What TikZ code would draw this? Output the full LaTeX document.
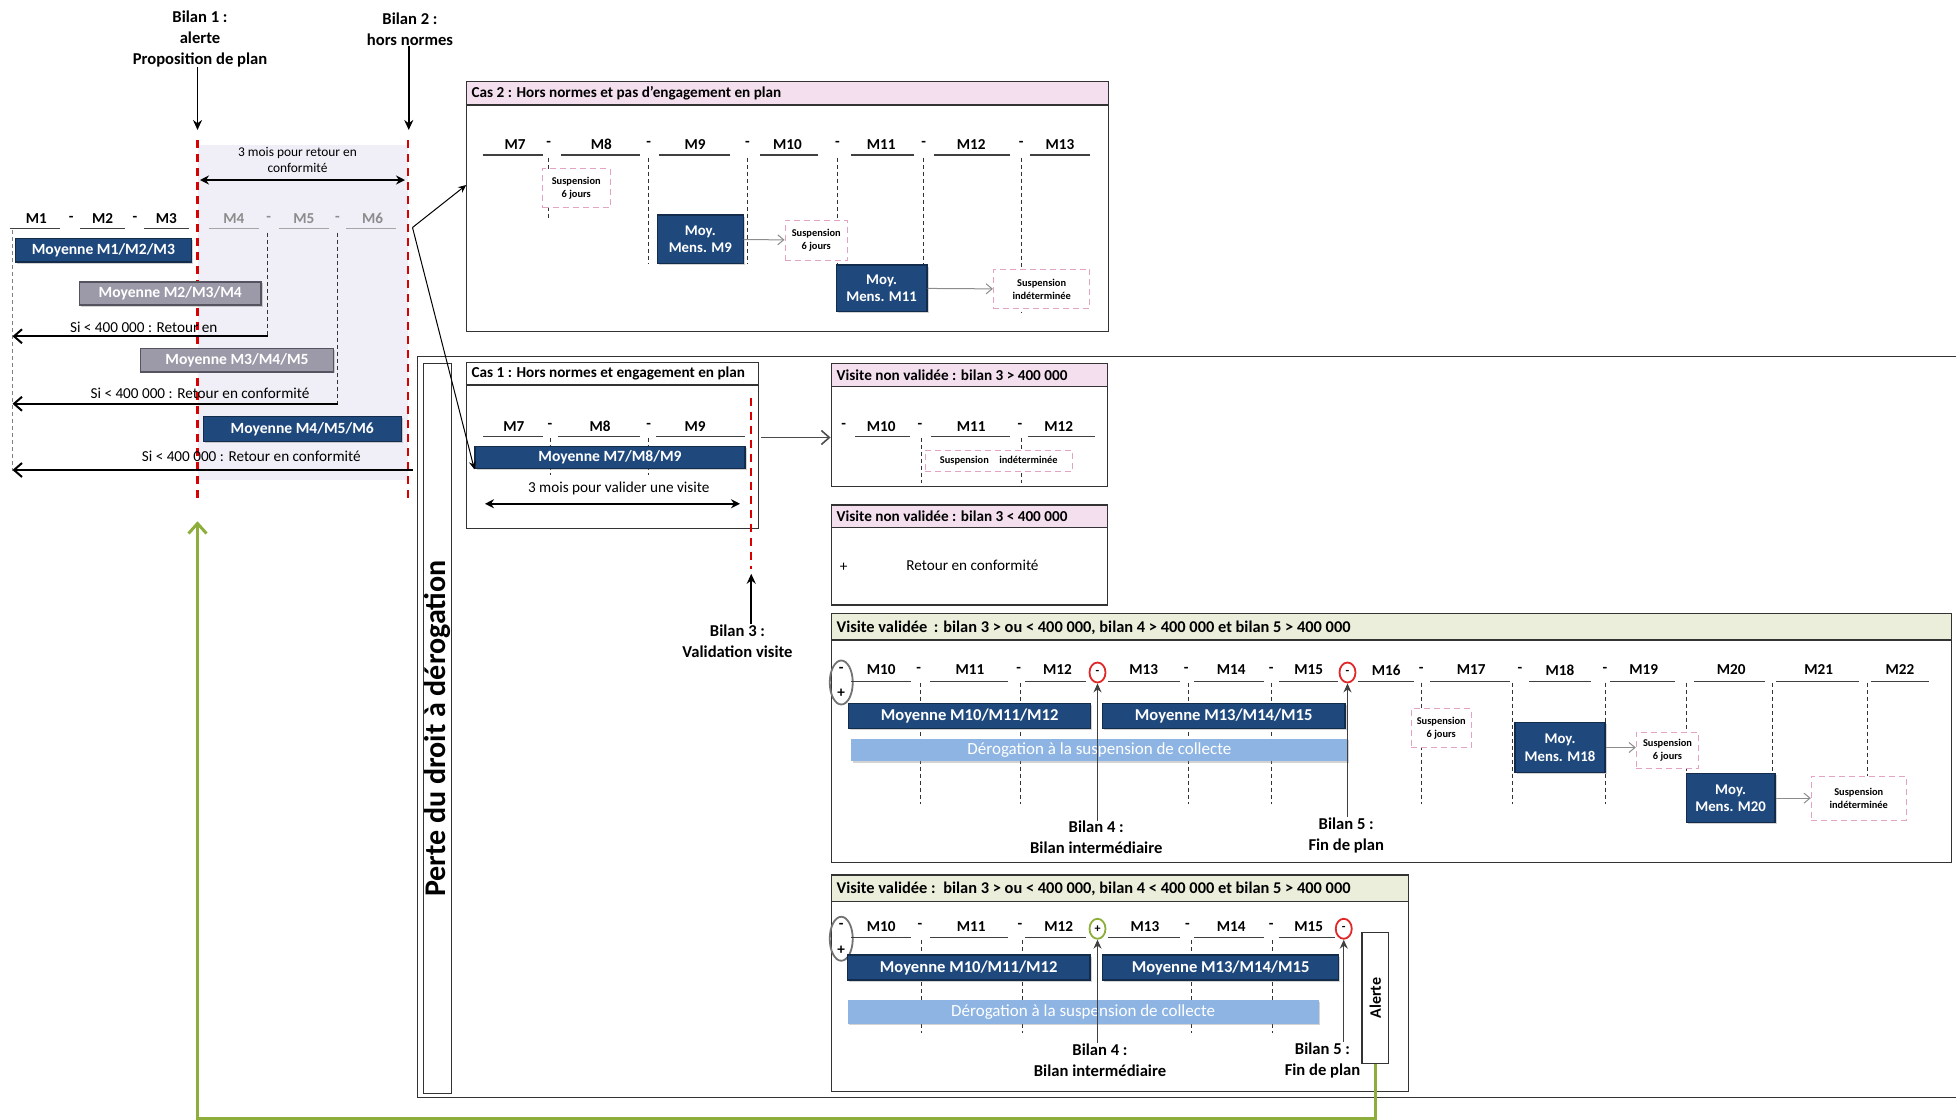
\documentclass[tikz,border=0pt]{standalone}
\usepackage{fontspec}
\setmainfont{Carlito}
\usetikzlibrary{positioning,fit,arrows.meta,shapes.geometric,shadows}

\definecolor{dkblue}{HTML}{1F497D}
\definecolor{boxgray}{HTML}{9C99A8}
\definecolor{graydark}{HTML}{55535F}
\definecolor{barblue}{HTML}{8DB4E2}
\definecolor{hdrpink}{HTML}{F3DFEE}
\definecolor{hdrbeige}{HTML}{ECEEDC}
\definecolor{lavend}{HTML}{F0EEF6}
\definecolor{susppink}{HTML}{E2A4C2}
\definecolor{olive}{HTML}{8DAE3A}
\definecolor{alertred}{HTML}{E02828}

\tikzset{
  mlab/.style={inner sep=0pt, font=\fontsize{7.6}{8}\selectfont\bfseries},
  mgray/.style={mlab, text=black!45},
  uline/.style={line width=0.6pt, black!75},
  vdash/.style={line width=0.5pt, black!80, dash pattern=on 2pt off 1.5pt},
  reddash/.style={line width=1.1pt, red!85!black, dash pattern=on 4pt off 3pt},
  shade/.style={drop shadow={opacity=0.35, shadow xshift=0.8pt, shadow yshift=-0.8pt}},
  blubox/.style={shade, fill=dkblue, draw=dkblue!60!black, line width=0.6pt, text=white, inner sep=0pt, font=\fontsize{7.8}{8}\selectfont\bfseries},
  bigblu/.style={blubox, font=\fontsize{8.3}{9}\selectfont\bfseries},
  mensbox/.style={blubox, align=center, font=\fontsize{7.4}{8.8}\selectfont\bfseries},
  grybox/.style={shade, fill=boxgray, draw=graydark, line width=0.8pt, text=white, inner sep=0pt, font=\fontsize{7.8}{8}\selectfont\bfseries},
  suspbox/.style={fill=white, draw=susppink, densely dashed, line width=0.5pt, inner sep=0pt, align=center, font=\fontsize{5.2}{6.5}\selectfont\bfseries},
  derog/.style={shade, fill=barblue, inner sep=0pt, text=white, font=\fontsize{8.5}{9}\selectfont},
  frame/.style={draw=black!80, line width=0.7pt, inner sep=0pt},
  htitle/.style={anchor=west, inner sep=0pt, font=\fontsize{7.6}{8}\selectfont\bfseries},
  vtitle/.style={htitle, font=\fontsize{8.2}{9}\selectfont\bfseries},
  bilan/.style={align=center, inner sep=0pt, font=\fontsize{8.3}{10.5}\selectfont\bfseries},
  note/.style={inner sep=0pt, font=\fontsize{7.6}{8}\selectfont},
  oval/.style={ellipse, draw=alertred, line width=0.9pt, inner sep=0pt, minimum width=8pt, minimum height=10pt, font=\fontsize{6}{6}\selectfont\bfseries},
  grayoval/.style={ellipse, draw=black!55, line width=0.9pt, inner sep=0pt, minimum width=11.5pt, minimum height=22pt},
  barrow/.style={-{Stealth[length=5pt,width=4.5pt]}, line width=0.8pt},
  uparrow/.style={-{Stealth[length=4.5pt,width=4pt]}, line width=0.6pt, black!75},
  retarrow/.style={-{Straight Barb[length=4pt,width=7pt]}, line width=1pt},
  dblarrow/.style={{Stealth[length=4.5pt,width=4.5pt]}-{Stealth[length=4.5pt,width=4.5pt]}, line width=1pt},
  grarrow/.style={-{Straight Barb[length=3pt,width=5pt]}, line width=0.5pt, black!45},
  thinarrow/.style={-{Stealth[length=4pt,width=3.5pt]}, line width=0.5pt},
  garrow/.style={-{Straight Barb[length=5pt,width=9pt]}, line width=1.5pt, olive}
}

\begin{document}
\begin{tikzpicture}[x=0.625pt,y=-0.625pt]
\useasboundingbox (0,0) rectangle (1564.8,896);

% plan d'alerte
\fill[lavend] (158,116) rectangle (326,384);
\node[bilan] (bil1) at (160,31) {Bilan 1 :\\alerte\\Proposition de plan};
\node[bilan] (bil2) at (328,23) {Bilan 2 :\\hors normes};
\coordinate (bil1tip) at (158,104);
\coordinate (bil2tip) at (327,104);
\draw[barrow] (bil1.south -| bil1tip) -- (bil1tip);
\draw[barrow] (bil2.south -| bil2tip) -- (bil2tip);
\draw[reddash] (158,112) -- (158,401);
\draw[reddash] (326.4,112) -- (326.4,401);
\node[note, align=center, font=\fontsize{6.7}{8}\selectfont] (mois3) at (238,128) {3 mois pour retour en\\conformité};
\coordinate (dba) at (160,144);
\coordinate (dbb) at (324,144);
\draw[dblarrow] (dba) -- (dbb);

\node[mlab] (tm1) at (29,175) {M1};
\node[mlab] (ts1) at (57,175) {-};
\node[mlab] (tm2) at (82,175) {M2};
\node[mlab] (ts2) at (108,175) {-};
\node[mlab] (tm3) at (133,175) {M3};
\node[mgray] (tm4) at (187,175) {M4};
\node[mgray] (ts3) at (215,175) {-};
\node[mgray] (tm5) at (243,175) {M5};
\node[mgray] (ts4) at (270,175) {-};
\node[mgray] (tm6) at (298,175) {M6};
\draw[uline] (8,183) -- (48,183);
\draw[uline] (64,183) -- (100,183);
\draw[uline] (115,183) -- (151,183);
\draw[uline, black!35] (167,183) -- (207,183);
\draw[uline, black!35] (223,183) -- (263,183);
\draw[uline, black!35] (277,183) -- (317,183);
\draw[vdash, black!50] (10,184) -- (10,377);
\draw[vdash] (214,186) -- (214,269);
\draw[vdash] (270,186) -- (270,323);

\node[blubox, minimum width=87.8pt, minimum height=11.6pt] (moy123) at (82.75,200.25) {Moyenne M1/M2/M3};
\node[grybox, minimum width=90.9pt, minimum height=11.6pt] (moy234) at (136.25,234.75) {Moyenne M2/M3/M4};
\node[note] (si1) at (115,262) {Si < 400 000 : Retour en};
\coordinate (r1a) at (214,269);
\coordinate (r1b) at (10,269);
\draw[retarrow] (r1a) -- (r1b);
\node[grybox, minimum width=96.4pt, minimum height=11.75pt] (moy345) at (189.6,288.1) {Moyenne M3/M4/M5};
\node[note] (si2) at (160,315) {Si < 400 000 : Retour en conformité};
\coordinate (r2a) at (270,323);
\coordinate (r2b) at (10,323);
\draw[retarrow] (r2a) -- (r2b);
\node[blubox, minimum width=98.9pt, minimum height=12.2pt] (moy456) at (241.85,343.25) {Moyenne M4/M5/M6};
\node[note] (si3) at (201,365) {Si < 400 000 : Retour en conformité};
\coordinate (r3a) at (330,376);
\coordinate (r3b) at (10,376);
\draw[retarrow] (r3a) -- (r3b);

% cas 2
\filldraw[fill=hdrpink, draw=black!80, line width=0.7pt] (373,65) rectangle (887,84);
\node[frame, fit={(373,65) (887,265)}] (cas2) {};
\node[htitle] (cas2t) at (377,74.5) {Cas 2 : Hors normes et pas d'engagement en plan};
\node[mlab] (c2m7) at (412,115.5) {M7};
\node[mlab] (c2s1) at (439,115.5) {-};
\node[mlab] (c2m8) at (481,115.5) {M8};
\node[mlab] (c2s2) at (519,115.5) {-};
\node[mlab] (c2m9) at (556,115.5) {M9};
\node[mlab] (c2s3) at (598,115.5) {-};
\node[mlab] (c2m10) at (630,115.5) {M10};
\node[mlab] (c2s4) at (670,115.5) {-};
\node[mlab] (c2m11) at (705,115.5) {M11};
\node[mlab] (c2s5) at (739,115.5) {-};
\node[mlab] (c2m12) at (777,115.5) {M12};
\node[mlab] (c2s6) at (817,115.5) {-};
\node[mlab] (c2m13) at (848,115.5) {M13};
\draw[uline] (386,124) -- (434,124);
\draw[uline] (449,124) -- (512,124);
\draw[uline] (527,124) -- (584,124);
\draw[uline] (608,124) -- (654,124);
\draw[uline] (681,124) -- (731,124);
\draw[uline] (747,124) -- (808,124);
\draw[uline] (824,124) -- (872,124);
\draw[vdash] (439,126) -- (439,175);
\draw[vdash] (519,126) -- (519,211);
\draw[vdash] (598,126) -- (598,211);
\draw[vdash] (670,126) -- (670,212);
\draw[vdash] (739,126) -- (739,213);
\draw[vdash] (817,126) -- (817,250);
\node[suspbox, minimum width=33.75pt, minimum height=19.4pt] (c2sus1) at (461,150.5) {Suspension\\6 jours};
\node[mensbox, minimum width=42.8pt, minimum height=24.4pt] (c2moy9) at (560.25,191.5) {Moy.\\Mens. M9};
\node[suspbox, minimum width=31.25pt, minimum height=20pt] (c2sus2) at (653,192) {Suspension\\6 jours};
\node[mensbox, minimum width=45.4pt, minimum height=23.1pt] (c2moy11) at (705.3,230.5) {Moy.\\Mens. M11};
\node[suspbox, minimum width=48.3pt, minimum height=19.6pt] (c2sus3) at (833.35,231.35) {Suspension\\indéterminée};
\draw[grarrow] (c2moy9) -- (c2sus2);
\draw[grarrow] (c2moy11) -- (c2sus3);

% perte du droit
\draw[frame] (1564.8,285) -- (334,285) -- (334,878) -- (1564.8,878);
\node[frame, fit={(339,291) (361,875)}] (perte) {};
\node[rotate=90, inner sep=0pt, font=\fontsize{15}{16}\selectfont\bfseries] (pertet) at (perte.center) {Perte du droit à dérogation};

% cas 1
\node[frame, fit={(373,290) (607,423)}] (cas1) {};
\draw[frame] (373,308) -- (607,308);
\node[htitle] (cas1t) at (377,299) {Cas 1 : Hors normes et engagement en plan};
\node[mlab] (c1m7) at (411,341) {M7};
\node[mlab] (c1s1) at (440,341) {-};
\node[mlab] (c1m8) at (480,341) {M8};
\node[mlab] (c1s2) at (519,341) {-};
\node[mlab] (c1m9) at (556,341) {M9};
\draw[uline] (386,349) -- (434,349);
\draw[uline] (446,349) -- (512,349);
\draw[uline] (525,349) -- (596,349);
\draw[vdash] (440,350) -- (440,380);
\draw[vdash] (519,350) -- (519,380);
\node[blubox, minimum width=135pt, minimum height=11.25pt] (c1moy) at (488,366) {Moyenne M7/M8/M9};
\node[note] (c1txt) at (495,391) {3 mois pour valider une visite};
\coordinate (c1a) at (388,403);
\coordinate (c1b) at (592,403);
\draw[dblarrow] (c1a) -- (c1b);
\draw[reddash] (601,318) -- (601,455);
\node[bilan] (bil3) at (590,513) {Bilan 3 :\\Validation visite};
\coordinate (bil3tip) at (601,459);
\draw[barrow] (bil3.north -| bil3tip) -- (bil3tip);

% visite non validee > 400 000
\filldraw[fill=hdrpink, draw=black!80, line width=0.7pt] (665,291) rectangle (886,309);
\node[frame, fit={(665,291) (886,389)}] (vnv1) {};
\node[htitle] (vnv1t) at (669,300) {Visite non validée : bilan 3 > 400 000};
\node[mlab] (n1s0) at (675,341) {-};
\node[mlab] (n1m10) at (705,341) {M10};
\node[mlab] (n1s1) at (736,341) {-};
\node[mlab] (n1m11) at (777,341) {M11};
\node[mlab] (n1s2) at (816,341) {-};
\node[mlab] (n1m12) at (847,341) {M12};
\draw[uline] (684,349) -- (728,349);
\draw[uline] (745,349) -- (808,349);
\draw[uline] (822,349) -- (876,349);
\draw[vdash] (737,350) -- (737,386);
\draw[vdash] (817,350) -- (817,386);
\node[suspbox, minimum width=73.75pt, minimum height=10.6pt] (n1sus) at (799,368.5) {Suspension\quad indéterminée};
\coordinate (c1out) at (609,350);
\draw[retarrow, line width=0.8pt, black!70] (c1out) -- (vnv1.west |- c1out);

% visite non validee < 400 000
\filldraw[fill=hdrpink, draw=black!80, line width=0.7pt] (665,404) rectangle (886,422);
\node[frame, fit={(665,404) (886,484)}] (vnv2) {};
\node[htitle] (vnv2t) at (669,413) {Visite non validée : bilan 3 < 400 000};
\node[note] (n2plus) at (675,454) {+};
\node[note] (n2txt) at (778,452) {Retour en conformité};

% visite validee, bilan 4 > 400 000
\filldraw[fill=hdrbeige, draw=black!80, line width=0.7pt] (665,491) rectangle (1561,512);
\node[frame, fit={(665,491) (1561,690)}] (vv1) {};
\node[vtitle] (vv1t) at (669,502) {Visite validée\, : bilan 3 > ou < 400 000, bilan 4 > 400 000 et bilan 5 > 400 000};
\node[grayoval] (v1o) at (673,546) {};
\node[mlab] (v1om) at (673,536) {-};
\node[mlab] (v1op) at (673,555) {+};
\node[mlab] (v1m10) at (705,536) {M10};
\node[mlab] (v1s1) at (735,536) {-};
\node[mlab] (v1m11) at (776,536) {M11};
\node[mlab] (v1s2) at (815,536) {-};
\node[mlab] (v1m12) at (846,536) {M12};
\node[oval] (v1c1) at (878,538) {-};
\node[mlab] (v1m13) at (915,536) {M13};
\node[mlab] (v1s3) at (949,536) {-};
\node[mlab] (v1m14) at (985,536) {M14};
\node[mlab] (v1s4) at (1017,536) {-};
\node[mlab] (v1m15) at (1047,536) {M15};
\node[oval] (v1c2) at (1078,538) {-};
\node[mlab] (v1m16) at (1109,536) {M16};
\node[mlab] (v1s5) at (1137,536) {-};
\node[mlab] (v1m17) at (1177,536) {M17};
\node[mlab] (v1s6) at (1216,536) {-};
\node[mlab] (v1m18) at (1248,536) {M18};
\node[mlab] (v1s7) at (1284,536) {-};
\node[mlab] (v1m19) at (1315,536) {M19};
\node[mlab] (v1m20) at (1385,536) {M20};
\node[mlab] (v1m21) at (1455,536) {M21};
\node[mlab] (v1m22) at (1520,536) {M22};
\draw[uline] (681,545) -- (729,545);
\draw[uline] (744,545) -- (806,545);
\draw[uline] (820,545) -- (869,545);
\draw[uline] (886,545) -- (944,545);
\draw[uline] (955,545) -- (1011,545);
\draw[uline] (1023,545) -- (1070,545);
\draw[uline] (1086,545) -- (1131,545);
\draw[uline] (1144,545) -- (1208,545);
\draw[uline] (1223,545) -- (1273,545);
\draw[uline] (1288,545) -- (1340,545);
\draw[uline] (1355,545) -- (1412,545);
\draw[uline] (1421,545) -- (1487,545);
\draw[uline] (1497,545) -- (1543,545);
\draw[vdash] (736,546) -- (736,643);
\draw[vdash] (816,546) -- (816,643);
\draw[vdash] (951,546) -- (951,643);
\draw[vdash] (1017,546) -- (1017,643);
\draw[vdash] (1137,546) -- (1137,643);
\draw[vdash] (1210,546) -- (1210,643);
\draw[vdash] (1284,546) -- (1284,643);
\draw[vdash] (1349,546) -- (1349,643);
\draw[vdash] (1418,546) -- (1418,643);
\draw[vdash] (1494,546) -- (1494,643);
\node[bigblu, minimum width=120.9pt, minimum height=12.5pt] (v1moya) at (775.75,573) {Moyenne M10/M11/M12};
\node[bigblu, minimum width=121.25pt, minimum height=12.5pt] (v1moyb) at (979,573) {Moyenne M13/M14/M15};
\node[derog, minimum width=248.1pt, minimum height=11.25pt] (v1der) at (879.5,600) {Dérogation à la suspension de collecte};
\node[suspbox, minimum width=30pt, minimum height=19.4pt] (v1sus1) at (1153,582.5) {Suspension\\6 jours};
\node[mensbox, minimum width=45pt, minimum height=25pt] (v1moy18) at (1248,598) {Moy.\\Mens. M18};
\node[suspbox, minimum width=31.25pt, minimum height=18.1pt] (v1sus2) at (1334,600.5) {Suspension\\6 jours};
\node[mensbox, minimum width=44.4pt, minimum height=24.4pt] (v1moy20) at (1384.5,638.5) {Moy.\\Mens. M20};
\node[suspbox, minimum width=47.5pt, minimum height=21.9pt] (v1sus3) at (1487,638.5) {Suspension\\indéterminée};
\draw[grarrow] (v1moy18.east) -- (v1sus2.west |- v1moy18.east);
\draw[grarrow] (v1moy20.east) -- (v1sus3.west |- v1moy20.east);
\node[bilan] (bil4) at (877,670) {Bilan 4 :\\Bilan intermédiaire};
\node[bilan] (bil5) at (1077,668) {Bilan 5 :\\Fin de plan};
\draw[uparrow] (bil4.north -| v1c1) -- (v1c1.south);
\draw[uparrow] (bil5.north -| v1c2) -- (v1c2.south);

% visite validee, bilan 4 < 400 000
\filldraw[fill=hdrbeige, draw=black!80, line width=0.7pt] (665,700) rectangle (1127,721);
\node[frame, fit={(665,700) (1127,873)}] (vv2) {};
\node[vtitle] (vv2t) at (669,711) {Visite validée :\, bilan 3 > ou < 400 000, bilan 4 < 400 000 et bilan 5 > 400 000};
\node[grayoval] (v2o) at (673,751) {};
\node[mlab] (v2om) at (673,741) {-};
\node[mlab] (v2op) at (673,760) {+};
\node[mlab] (v2m10) at (705,741) {M10};
\node[mlab] (v2s1) at (736,741) {-};
\node[mlab] (v2m11) at (777,741) {M11};
\node[mlab] (v2s2) at (816,741) {-};
\node[mlab] (v2m12) at (847,741) {M12};
\node[oval, draw=olive] (v2c1) at (878,743) {+};
\node[mlab] (v2m13) at (916,741) {M13};
\node[mlab] (v2s3) at (950,741) {-};
\node[mlab] (v2m14) at (985,741) {M14};
\node[mlab] (v2s4) at (1017,741) {-};
\node[mlab] (v2m15) at (1047,741) {M15};
\node[oval] (v2c2) at (1075,743) {-};
\draw[uline] (681,750) -- (729,750);
\draw[uline] (744,750) -- (806,750);
\draw[uline] (820,750) -- (869,750);
\draw[uline] (886,750) -- (944,750);
\draw[uline] (955,750) -- (1011,750);
\draw[uline] (1023,750) -- (1068,750);
\draw[vdash] (737,752) -- (737,826);
\draw[vdash] (818,752) -- (818,826);
\draw[vdash] (953,752) -- (953,826);
\draw[vdash] (1018,752) -- (1018,826);
\node[bigblu, minimum width=121.25pt, minimum height=12.5pt] (v2moya) at (775,774) {Moyenne M10/M11/M12};
\node[bigblu, minimum width=118.1pt, minimum height=12.5pt] (v2moyb) at (976.5,774) {Moyenne M13/M14/M15};
\node[derog, minimum width=235.6pt, minimum height=11.9pt] (v2der) at (866.5,809.5) {Dérogation à la suspension de collecte};
\node[frame, fit={(1089.6,746) (1111,851)}] (alerte) {};
\node[rotate=90, inner sep=0pt, font=\fontsize{8}{9}\selectfont\bfseries] (alertet) at (alerte.center) {Alerte};
\node[bilan] (bil4b) at (880,848) {Bilan 4 :\\Bilan intermédiaire};
\node[bilan] (bil5b) at (1058,848) {Bilan 5 :\\Fin de plan};
\draw[uparrow] (bil4b.north -| v2c1) -- (v2c1.south);
\draw[uparrow] (bil5b.north -| v2c2) -- (v2c2.south);

% liens
\coordinate (m6out) at (330,182);
\coordinate (c2in) at (373,148);
\draw[thinarrow] (m6out) -- (c2in);
\draw[thinarrow] (m6out) -- (c1moy.south west);
\coordinate (gbot) at (1100.3,895);
\coordinate (gtip) at (158,417);
\draw[garrow] (alerte.south) -- (gbot) -| (gtip);
\end{tikzpicture}
\end{document}
